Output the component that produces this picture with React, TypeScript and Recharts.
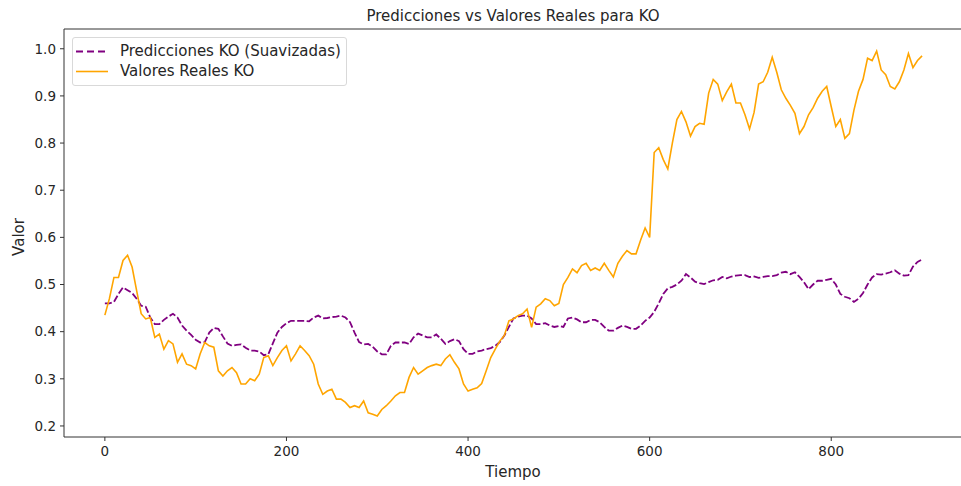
import React from 'react';
import { LineChart, Line, XAxis, YAxis, Legend, ReferenceLine } from 'recharts';

const STEP = 5;

const realValues = [
  0.435, 0.47, 0.515, 0.515, 0.551, 0.562, 0.537, 0.487, 0.438, 0.427,
  0.43, 0.388, 0.395, 0.363, 0.381, 0.374, 0.335, 0.353, 0.331, 0.328,
  0.321, 0.353, 0.377, 0.37, 0.367, 0.317, 0.306, 0.317, 0.324, 0.313,
  0.289, 0.289, 0.3, 0.296, 0.31, 0.345, 0.349, 0.328, 0.345, 0.36,
  0.37, 0.338, 0.353, 0.37, 0.36, 0.349, 0.331, 0.289, 0.267, 0.274,
  0.278, 0.257, 0.257, 0.25, 0.239, 0.243, 0.239, 0.253, 0.228, 0.225,
  0.221, 0.235, 0.243, 0.253, 0.264, 0.271, 0.271, 0.303, 0.324, 0.31,
  0.317, 0.324, 0.328, 0.331, 0.328, 0.342, 0.351, 0.335, 0.321, 0.289,
  0.274, 0.278, 0.281, 0.29, 0.317, 0.345, 0.363, 0.38, 0.392, 0.423,
  0.427, 0.434, 0.438, 0.448, 0.409, 0.452, 0.459, 0.47, 0.466, 0.455,
  0.46, 0.5, 0.515, 0.533, 0.525, 0.54, 0.545, 0.53, 0.535, 0.53,
  0.545, 0.53, 0.516, 0.545, 0.56, 0.572, 0.565, 0.565, 0.594, 0.62,
  0.6, 0.78, 0.79, 0.765, 0.745, 0.8, 0.85, 0.867, 0.845, 0.815,
  0.835, 0.842, 0.84, 0.906, 0.935, 0.925, 0.89, 0.909, 0.925, 0.885,
  0.885, 0.86, 0.83, 0.865, 0.925, 0.93, 0.95, 0.982, 0.95, 0.913,
  0.895, 0.88, 0.863, 0.82, 0.835, 0.86, 0.875, 0.895, 0.91, 0.92,
  0.877, 0.835, 0.85, 0.81, 0.82, 0.87, 0.91, 0.935, 0.98, 0.975,
  0.995, 0.955, 0.945, 0.92, 0.915, 0.93, 0.955, 0.99, 0.96, 0.975,
  0.985,
];

const predictedValues = [
  0.46, 0.46, 0.463, 0.48, 0.494, 0.488, 0.482, 0.47, 0.455, 0.453,
  0.43, 0.416, 0.416, 0.425, 0.432, 0.438, 0.43, 0.413, 0.402, 0.393,
  0.383, 0.377, 0.378, 0.398, 0.408, 0.406, 0.39, 0.375, 0.37, 0.372,
  0.373, 0.366, 0.36, 0.36, 0.358, 0.35, 0.352, 0.375, 0.398, 0.41,
  0.418, 0.423, 0.423, 0.423, 0.423, 0.422, 0.43, 0.434, 0.428, 0.429,
  0.431, 0.432, 0.434, 0.43, 0.42, 0.398, 0.378, 0.373, 0.374, 0.368,
  0.358, 0.352, 0.352, 0.37, 0.377, 0.377, 0.377, 0.374, 0.388, 0.396,
  0.392, 0.388, 0.388, 0.394, 0.385, 0.374, 0.38, 0.384, 0.38, 0.363,
  0.353, 0.353, 0.358, 0.36, 0.363, 0.365, 0.37, 0.378, 0.392, 0.41,
  0.428, 0.432, 0.434, 0.434, 0.428, 0.416, 0.416, 0.418, 0.413, 0.41,
  0.412, 0.41, 0.428, 0.43, 0.426, 0.42, 0.42, 0.425, 0.425, 0.42,
  0.41, 0.402, 0.402, 0.408, 0.413, 0.41, 0.406, 0.406, 0.413, 0.423,
  0.43, 0.442, 0.46, 0.48, 0.492, 0.495, 0.5, 0.508, 0.522, 0.515,
  0.506, 0.503, 0.501, 0.505, 0.509, 0.51, 0.516, 0.513, 0.517, 0.519,
  0.52, 0.52, 0.516, 0.517, 0.514, 0.516, 0.518, 0.518, 0.52, 0.525,
  0.527, 0.522, 0.526, 0.516, 0.505, 0.49, 0.5, 0.508, 0.508, 0.51,
  0.512, 0.5, 0.48, 0.474, 0.471, 0.463, 0.47, 0.482, 0.5, 0.515,
  0.522, 0.521, 0.523, 0.526, 0.53, 0.523, 0.519, 0.52, 0.538, 0.548,
  0.553,
];

const xTicks = [0, 200, 400, 600, 800];
const yTicks = [0.2, 0.3, 0.4, 0.5, 0.6, 0.7, 0.8, 0.9, 1.0];

const data = realValues.map((real, i) => ({
  t: i * STEP,
  real,
  pred: predictedValues[i],
}));

const PURPLE = '#800080';
const ORANGE = '#ffa500';
const TEXT = '#262626';
const FONT = '"DejaVu Sans", sans-serif';
const Y_MIN = 0.1766;
const Y_MAX = 1.0419;

const LegendBox = () => (
  <div
    style={{
      width: 275,
      height: 49,
      border: '1px solid #d9d9d9',
      borderRadius: 3,
      background: 'rgba(255,255,255,0.85)',
      fontFamily: FONT,
      fontSize: 15,
      color: TEXT,
      boxSizing: 'border-box',
      position: 'relative',
    }}
  >
    <svg width={40} height={49} style={{ position: 'absolute', left: 0, top: 0 }}>
      <line x1={3} x2={35} y1={13.5} y2={13.5} stroke={PURPLE} strokeWidth={1.8} strokeDasharray="7 4" />
      <line x1={3} x2={35} y1={33.5} y2={33.5} stroke={ORANGE} strokeWidth={1.6} />
    </svg>
    <div style={{ position: 'absolute', left: 47, top: 4, whiteSpace: 'nowrap' }}>
      Predicciones KO (Suavizadas)
    </div>
    <div style={{ position: 'absolute', left: 47, top: 24, whiteSpace: 'nowrap' }}>
      Valores Reales KO
    </div>
  </div>
);

export default function App() {
  const tickStyle = { fontSize: 13.5, fill: TEXT };
  return (
    <div
      style={{
        position: 'absolute',
        left: 0,
        top: 0,
        width: 961,
        height: 486,
        overflow: 'hidden',
        background: '#fff',
        fontFamily: FONT,
      }}
    >
      <div
        style={{
          position: 'absolute',
          left: 513,
          top: 16,
          transform: 'translate(-50%, -50%)',
          fontSize: 15,
          color: TEXT,
          whiteSpace: 'nowrap',
        }}
      >
        Predicciones vs Valores Reales para KO
      </div>
      <div
        style={{
          position: 'absolute',
          left: 513,
          top: 472,
          transform: 'translate(-50%, -50%)',
          fontSize: 15,
          color: TEXT,
        }}
      >
        Tiempo
      </div>
      <div
        style={{
          position: 'absolute',
          left: 19,
          top: 237,
          transform: 'translate(-50%, -50%) rotate(-90deg)',
          fontSize: 15,
          color: TEXT,
        }}
      >
        Valor
      </div>

      <LineChart
        width={970}
        height={486}
        data={data}
        margin={{ top: 29, right: 8, bottom: 19, left: 4 }}
      >
        <XAxis
          dataKey="t"
          type="number"
          domain={[-45, 944]}
          ticks={xTicks}
          allowDataOverflow
          height={30}
          stroke="#333"
          tickSize={4}
          tickMargin={5}
          tick={tickStyle}
        />
        <YAxis
          type="number"
          domain={[Y_MIN, Y_MAX]}
          ticks={yTicks}
          allowDataOverflow
          width={60}
          stroke="#333"
          tickSize={4}
          tickMargin={4}
          tick={tickStyle}
          tickFormatter={(v: number) => v.toFixed(1)}
        />
        <ReferenceLine y={Y_MAX} stroke="#333" strokeWidth={1} ifOverflow="extendDomain" />
        <Legend
          layout="horizontal"
          verticalAlign="middle"
          align="center"
          content={() => <LegendBox />}
          wrapperStyle={{ left: 72, top: 37, width: 'auto', height: 'auto' }}
        />
        <Line
          type="linear"
          dataKey="pred"
          stroke={PURPLE}
          strokeWidth={1.8}
          strokeDasharray="7 2.5"
          dot={false}
          isAnimationActive={false}
        />
        <Line
          type="linear"
          dataKey="real"
          stroke={ORANGE}
          strokeWidth={1.6}
          dot={false}
          isAnimationActive={false}
        />
      </LineChart>
    </div>
  );
}
